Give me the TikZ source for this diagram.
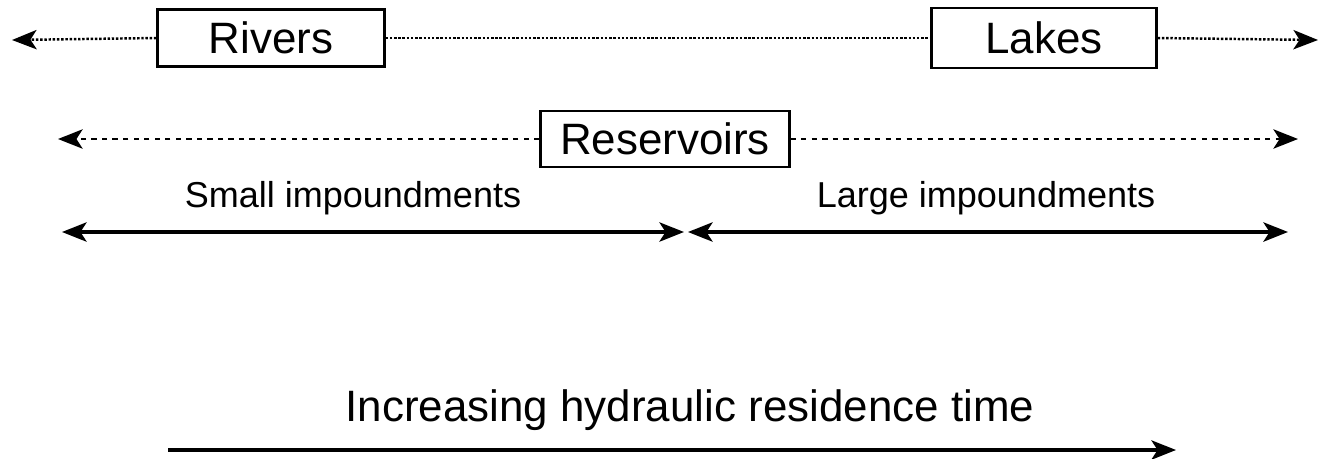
\documentclass[tikz,border=0pt]{standalone}
\usepackage{fontspec}
\setmainfont{Liberation Sans}
\usetikzlibrary{arrows.meta}

\begin{document}
\begin{tikzpicture}[x=0.02cm, y=-0.02cm, every node/.style={font=\fontsize{25}{28}\selectfont,inner sep=0pt}, box/.style={draw,line width=1.3pt,minimum height=1.14cm}, span/.style={font=\fontsize{20.5}{24}\selectfont}, Tip/.tip={Stealth[length=14pt,width=11pt,inset=3.5pt]}, dotline/.style={-Tip,line width=1.4pt,densely dotted}, dashline/.style={-Tip,line width=1.4pt,dashed}, solidline/.style={Tip-Tip,line width=1.8pt}]
\useasboundingbox (0,0) rectangle (1321,458);
% water body types
\node[box,minimum width=4.54cm] (rivers) at (271,38) {Rivers};
\node[box,minimum width=4.5cm,minimum height=1.2cm] (lakes) at (1044,38) {Lakes};
\node[box,minimum width=4.98cm,minimum height=1.12cm] (reservoirs) at (665,139) {Reservoirs};
\coordinate (topleft) at (12,40);
\coordinate (topright) at (1318,40);
\coordinate (resleft) at (58,139);
\coordinate (resright) at (1298,139);
\draw[dotline] (rivers.west) -- (topleft);
\draw[densely dotted,line width=1.4pt] (rivers.east) -- (lakes.west);
\draw[dotline] (lakes.east) -- (topright);
\draw[dashline] (reservoirs.west) -- (resleft);
\draw[dashline] (reservoirs.east) -- (resright);
% impoundments
\node[span] (small) at (353,198) {Small impoundments};
\node[span] (large) at (986,198) {Large impoundments};
\coordinate (smallleft) at (62,232);
\coordinate (smallright) at (684,232);
\coordinate (largeleft) at (688,232);
\coordinate (largeright) at (1288,232);
\draw[solidline] (smallleft) -- (smallright);
\draw[solidline] (largeleft) -- (largeright);
% residence time
\node (time) at (690,410) {Increasing hydraulic residence time};
\coordinate (timeleft) at (168,450);
\coordinate (timeright) at (1176,450);
\draw[-Tip,line width=1.8pt] (timeleft) -- (timeright);
\end{tikzpicture}
\end{document}
